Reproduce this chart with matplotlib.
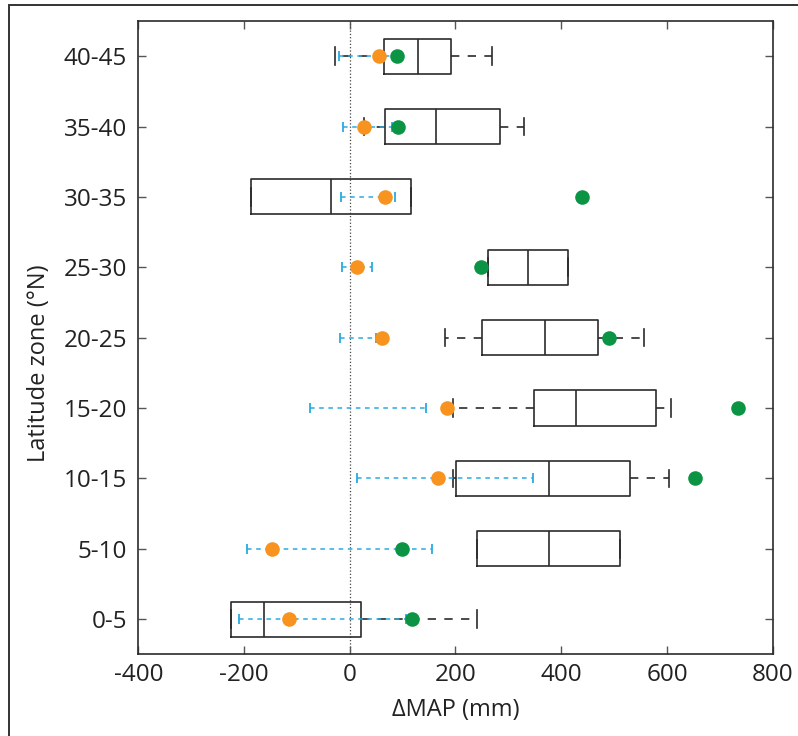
import matplotlib
matplotlib.use("Agg")
import matplotlib.pyplot as plt
from matplotlib.patches import Rectangle

# Latitude zones (bottom to top)
zones = ['0-5', '5-10', '10-15', '15-20', '20-25', '25-30', '30-35', '35-40', '40-45']

# Box-plot statistics of ΔMAP (mm) per zone
whislo = [-225, 241, 196, 196, 180, 262, -187, 26, -28]
q1 = [-225, 241, 201, 349, 250, 262, -187, 67, 64]
med = [-162, 376, 376, 427, 369, 338, -36, 163, 130]
q3 = [22, 512, 531, 579, 470, 412, 115, 284, 192]
whishi = [241, 512, 604, 608, 556, 412, 115, 330, 269]

# Range of the second estimate (blue dashed bars)
range_lo = [-210, -194, 13, -75, -19, -14, -17, -13, -20]
range_hi = [106, 155, 346, 145, 50, 42, 85, 80, 84]

# Point estimates
orange_vals = [-114, -148, 166, 184, 61, 14, 67, 26, 56]
green_vals = [117, 99, 653, 734, 491, 248, 440, 92, 90]

xticks = [-400, -200, 0, 200, 400, 600, 800]

plt.rcParams['font.family'] = ['Open Sans', 'DejaVu Sans']

fig = plt.figure(figsize=(7.98, 7.36), dpi=100)
ax = fig.add_axes([0.1733, 0.111, 0.795, 0.8605])

ypos = list(range(1, len(zones) + 1))
stats = [dict(whislo=a, q1=b, med=c, q3=d, whishi=e, label=z)
         for a, b, c, d, e, z in zip(whislo, q1, med, q3, whishi, zones)]

edge = '#2b2b2b'
ax.bxp(stats, positions=ypos, widths=0.5, capwidths=0.25,
       orientation='horizontal', showfliers=False, patch_artist=False,
       boxprops=dict(color=edge, linewidth=1.2),
       medianprops=dict(color=edge, linewidth=1.2),
       whiskerprops=dict(color=edge, linewidth=1.2, linestyle=(0, (5, 5))),
       capprops=dict(color=edge, linewidth=1.2), zorder=2)

ax.axvline(0, color='#444444', linewidth=0.9, linestyle=':', zorder=1)

blue = '#29abe2'
for y, lo, hi in zip(ypos, range_lo, range_hi):
    ax.plot([lo, hi], [y, y], color=blue, linewidth=1.1, linestyle=(0, (3, 3)),
            zorder=3)
    ax.plot([lo, hi], [y, y], color=blue, linestyle='none', marker='|',
            markersize=7, markeredgewidth=1.3, zorder=3)

ax.plot(orange_vals, ypos, 'o', color='#f7931e', markersize=10.5,
        markeredgewidth=0, zorder=4)
ax.plot(green_vals, ypos, 'o', color='#0b9444', markersize=10.5,
        markeredgewidth=0, zorder=5)

ax.set_xlim(-400, 800)
ax.set_ylim(0.5, 9.5)
ax.set_xticks(xticks)
ax.set_xticklabels([str(t) for t in xticks])
ax.set_yticks(ypos)
ax.set_yticklabels(zones)

ax.tick_params(axis='both', direction='in', length=6, width=1, color='#555555',
               labelsize=17.5, labelcolor='#222222', top=True, right=True)
ax.tick_params(axis='x', pad=6)
ax.tick_params(axis='y', pad=8)
for s in ax.spines.values():
    s.set_color(edge)
    s.set_linewidth(1.2)

ax.set_xlabel('ΔMAP (mm)', fontsize=17, color='#222222', labelpad=8)
ax.set_ylabel('Latitude zone (°N)', fontsize=17, color='#222222')
ax.yaxis.set_label_coords(-0.138, 0.46)

# Outer frame around the figure
fig.patches.append(Rectangle((9.3 / 798, -0.2), 1.2, 1.2 - 4.7 / 736,
                             transform=fig.transFigure, fill=False,
                             edgecolor='#333333', linewidth=1.4))

fig.savefig('out.png', dpi=100)
